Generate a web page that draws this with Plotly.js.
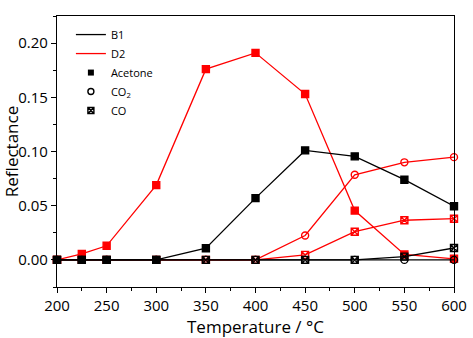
<!DOCTYPE html>
<html>
<head>
<meta charset="utf-8">
<script src="https://cdn.plot.ly/plotly-3.0.1.min.js"></script>
<style>html,body{margin:0;padding:0;background:#fff;}#chart{width:473px;height:338px;}</style>
</head>
<body>
<div id="chart"></div>
<script>
const temperature = [200, 225, 250, 300, 350, 400, 450, 500, 550, 600];

const b1Acetone = [0, 0, 0, 0, 0.0108, 0.057, 0.101, 0.0955, 0.074, 0.0495];
const b1CO2     = [0, 0, 0, 0, 0, 0, 0, 0, 0, 0];
const b1CO      = [0, 0, 0, 0, 0, 0, 0, 0, 0.003, 0.011];

const d2Acetone = [0, 0.0055, 0.013, 0.069, 0.176, 0.191, 0.153, 0.0455, 0.005, 0.001];
const d2CO2     = [0, 0, 0, 0, 0, 0, 0.0225, 0.0785, 0.090, 0.0948];
const d2CO      = [0, 0, 0, 0, 0, 0, 0.0046, 0.026, 0.0366, 0.038];

const xTickLabels = ['200','250','300','350','400','450','500','550','600'];
const legendSamples = ['B1', 'D2', 'Acetone', 'CO<sub>2</sub>', 'CO'];

const BLACK = '#000000', RED = '#ff0000';
const FONT = 'Open Sans, Noto Sans, sans-serif';

function series(y, color, symbol) {
  return {
    x: temperature, y: y, mode: 'lines+markers', showlegend: false,
    line: {color: color, width: 1.3},
    marker: {symbol: symbol, size: 7, color: color, line: {color: color, width: 1.4}},
    cliponaxis: false, hoverinfo: 'skip'
  };
}

const traces = [
  series(d2CO2, RED, 'circle-open'),
  series(d2CO, RED, 'square-x-open'),
  series(d2Acetone, RED, 'square'),
  series(b1CO2, BLACK, 'circle-open'),
  series(b1CO, BLACK, 'square-x-open'),
  series(b1Acetone, BLACK, 'square'),
  {x: [null], y: [null], name: legendSamples[0], mode: 'lines', line: {color: BLACK, width: 1.3}},
  {x: [null], y: [null], name: legendSamples[1], mode: 'lines', line: {color: RED, width: 1.3}},
  {x: [null], y: [null], name: legendSamples[2], mode: 'markers', marker: {symbol: 'square', size: 6, color: BLACK}},
  {x: [null], y: [null], name: legendSamples[3], mode: 'markers', marker: {symbol: 'circle-open', size: 6, color: BLACK, line: {width: 1.4}}},
  {x: [null], y: [null], name: legendSamples[4], mode: 'markers', marker: {symbol: 'square-x-open', size: 6, color: BLACK, line: {width: 1.4}}}
];

const layout = {
  width: 473, height: 338,
  margin: {l: 57, r: 19, t: 16, b: 51},
  paper_bgcolor: '#fff', plot_bgcolor: '#fff',
  font: {family: FONT, color: '#000'},
  showlegend: true,
  legend: {x: 0.035, y: 0.985, xanchor: 'left', yanchor: 'top', bgcolor: 'rgba(0,0,0,0)',
           font: {size: 11, family: FONT}, tracegroupgap: 0, itemwidth: 30},
  xaxis: {
    range: [200, 600], tickvals: [200,250,300,350,400,450,500,550,600], ticktext: xTickLabels,
    showgrid: false, zeroline: false, showline: true, linecolor: '#000', linewidth: 1.2, mirror: true,
    ticks: 'outside', ticklen: 5, tickwidth: 1, tickcolor: '#000',
    minor: {dtick: 25, ticks: 'outside', ticklen: 3, tickcolor: '#000', showgrid: false},
    tickfont: {size: 15, family: FONT},
    title: {text: 'Temperature / °C', font: {size: 17, family: FONT}, standoff: 4}
  },
  yaxis: {
    range: [-0.025, 0.225], tickvals: [0, 0.05, 0.10, 0.15, 0.20], tickformat: '.2f',
    showgrid: false, zeroline: false, showline: true, linecolor: '#000', linewidth: 1.2, mirror: true,
    ticks: 'outside', ticklen: 5, tickwidth: 1, tickcolor: '#000',
    minor: {dtick: 0.025, ticks: 'outside', ticklen: 3, tickcolor: '#000', showgrid: false},
    tickfont: {size: 15, family: FONT},
    title: {text: 'Reflectance', font: {size: 17, family: FONT}, standoff: 6}
  }
};

Plotly.newPlot('chart', traces, layout, {displayModeBar: false, staticPlot: true});
</script>
</body>
</html>
